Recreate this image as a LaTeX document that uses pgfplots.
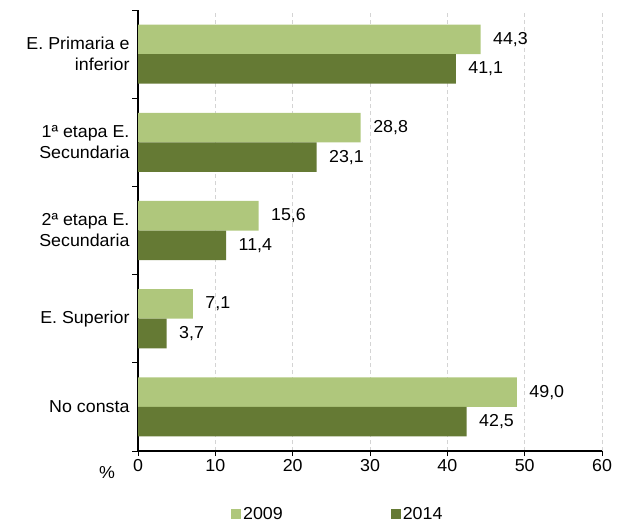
\documentclass[border=0pt]{standalone}
\usepackage{fontspec}
\setmainfont[FakeStretch=1.03]{Liberation Sans}
\usepackage{pgfplots}
\pgfplotsset{compat=1.18}

\definecolor{verdeclaro}{RGB}{175,199,124}
\definecolor{verdeoscuro}{RGB}{101,122,52}
\definecolor{rejilla}{RGB}{212,212,212}

\begin{document}
\begin{tikzpicture}
\path[use as bounding box] (0,0) rectangle (620pt,523pt);
\begin{axis}[
    at={(138pt,72pt)}, anchor=south west,
    scale only axis,
    width=464pt, height=441pt,
    font=\fontsize{17.3}{21}\selectfont,
    /pgf/number format/.cd, use comma, assume math mode=true,
    /pgfplots/.cd,
    xbar, bar width=0.335,
    xmin=0, xmax=60,
    xtick={0,10,...,60},
    ymin=-0.5, ymax=4.5,
    ytick={0,1,2,3,4},
    yticklabels={No consta, E. Superior, {2ª etapa E.\\Secundaria}, {1ª etapa E.\\Secundaria}, {E. Primaria e\\inferior}},
    yticklabel style={align=right},
    minor ytick={-0.5,0.5,...,4.5},
    axis x line*=bottom, axis y line*=left,
    axis line style={-, line width=2pt, black},
    tick align=outside,
    major tick length=5pt, minor tick length=6pt,
    major x tick style={black, line width=1pt},
    major y tick style={draw=none},
    minor y tick style={black, line width=1pt},
    xmajorgrids,
    major x grid style={rejilla, line width=1pt, dash pattern=on 4pt off 3pt},
    clip=false,
    nodes near coords={\pgfmathprintnumber[fixed, fixed zerofill, precision=1, use comma]{\pgfplotspointmeta}},
    every node near coord/.append style={black, xshift=9pt, font=\fontsize{17.3}{21}\selectfont},
    legend columns=2,
    legend image code/.code={\fill[#1] (0pt,-5pt) rectangle (10pt,5pt);},
    legend style={at={(0.2004,-0.1429)}, anchor=west, draw=none, fill=none,
        inner sep=0pt, nodes={inner sep=2pt},
        /tikz/every even column/.append style={column sep=106pt}},
]
\addplot[draw=none, fill=verdeclaro, bar shift=0.1675] coordinates {
    (49.0,0) (7.1,1) (15.6,2) (28.8,3) (44.3,4)
};
\addplot[draw=none, fill=verdeoscuro, bar shift=-0.1675] coordinates {
    (42.5,0) (3.7,1) (11.4,2) (23.1,3) (41.1,4)
};
\legend{2009,2014}
\node[font=\fontsize{17.3}{21}\selectfont, xshift=-31pt, yshift=-22pt] at (rel axis cs:0,0) {\%};
\end{axis}
\end{tikzpicture}
\end{document}
